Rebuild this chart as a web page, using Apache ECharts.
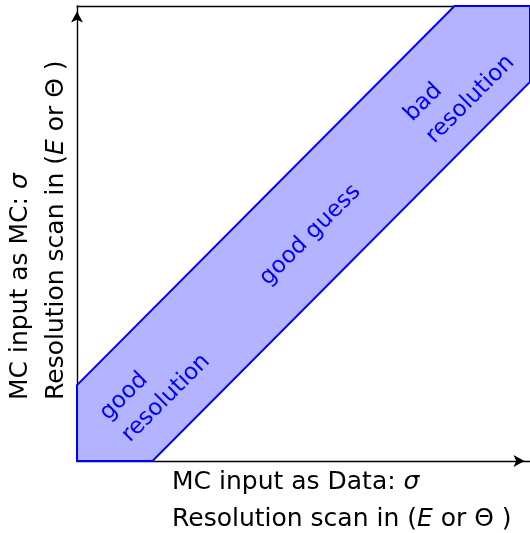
<!DOCTYPE html>
<html>
<head>
<meta charset="utf-8">
<script src="https://cdn.jsdelivr.net/npm/echarts@6/dist/echarts.min.js"></script>
<style>
html,body{margin:0;padding:0;background:#fff;}
#c{width:530px;height:533px;}
</style>
</head>
<body>
<div id="c"></div>
<script>
// Band polygon vertices (data units)
const bandX = [0, 1, 6, 6, 5, 0];
const bandY = [0, 0, 5, 6, 6, 1];
// Region labels and their anchor points (data units)
const labelTexts = ['good\nresolution', 'good guess', 'bad\nresolution'];
const labelX = [0.50, 3.09, 4.53];
const labelY = [0.44, 2.98, 4.38];
const labelAlign = ['left', 'center', 'left'];
// Axis titles
const xTitle = 'MC input as Data: {i|σ}\nResolution scan in ({i|E} or Θ )';
const yTitle = 'MC input as MC: {i|σ}\nResolution scan in ({i|E} or Θ )';

const FONT = 'DejaVu Sans';
const chart = echarts.init(document.getElementById('c'), null, {renderer: 'canvas'});

const axisCommon = {
  type: 'value', min: 0, max: 6,
  splitLine: {show: false}, axisTick: {show: false}, axisLabel: {show: false}
};

const option = {
  animation: false,
  backgroundColor: '#fff',
  grid: {left: 77, right: 0, top: 6, bottom: 72},
  xAxis: [
    Object.assign({}, axisCommon, {
      position: 'bottom',
      axisLine: {show: true, onZero: false, symbol: ['none', 'arrow'], symbolSize: [9, 11], symbolOffset: [0, -5.5],
        lineStyle: {color: '#000', width: 1.4}}
    }),
    Object.assign({}, axisCommon, {
      position: 'top',
      axisLine: {show: true, onZero: false, lineStyle: {color: '#000', width: 1.4}}
    })
  ],
  yAxis: [
    Object.assign({}, axisCommon, {
      position: 'left',
      axisLine: {show: true, onZero: false, symbol: ['none', 'arrow'], symbolSize: [9, 11], symbolOffset: [0, -5.5],
        lineStyle: {color: '#000', width: 1.4}}
    })
  ],
  series: [
    {
      type: 'custom',
      xAxisIndex: 0, yAxisIndex: 0,
      clip: false,
      data: [0],
      renderItem: function (params, api) {
        const pts = bandX.map(function (x, i) { return api.coord([x, bandY[i]]); });
        return {
          type: 'polygon',
          shape: {points: pts},
          style: {fill: '#b3b3ff', stroke: '#0000ff', lineWidth: 2}
        };
      },
      z: 3
    },
    {
      type: 'custom',
      xAxisIndex: 0, yAxisIndex: 0,
      clip: false,
      data: labelTexts.map(function (t, i) { return [labelX[i], labelY[i], i]; }),
      renderItem: function (params, api) {
        const i = api.value(2);
        const p = api.coord([api.value(0), api.value(1)]);
        return {
          type: 'text',
          x: p[0], y: p[1],
          rotation: Math.PI / 4,
          style: {
            text: labelTexts[i],
            fill: '#0000ff',
            font: '23px "' + FONT + '"',
            align: labelAlign[i],
            verticalAlign: 'middle',
            lineHeight: 31
          }
        };
      },
      z: 4
    }
  ],
  graphic: [
    {
      type: 'text',
      x: 172, y: 501,
      style: {
        text: xTitle,
        fill: '#000',
        fontFamily: FONT, fontSize: 25,
        align: 'left', verticalAlign: 'middle',
        lineHeight: 37,
        rich: {i: {fontStyle: 'italic', fontFamily: FONT, fontSize: 25, lineHeight: 37}}
      }
    },
    {
      type: 'text',
      x: 38, y: 400,
      rotation: Math.PI / 2,
      style: {
        text: yTitle,
        fill: '#000',
        fontFamily: FONT, fontSize: 25,
        align: 'left', verticalAlign: 'middle',
        lineHeight: 36,
        rich: {i: {fontStyle: 'italic', fontFamily: FONT, fontSize: 25, lineHeight: 36}}
      }
    }
  ]
};
chart.setOption(option);
</script>
</body>
</html>
